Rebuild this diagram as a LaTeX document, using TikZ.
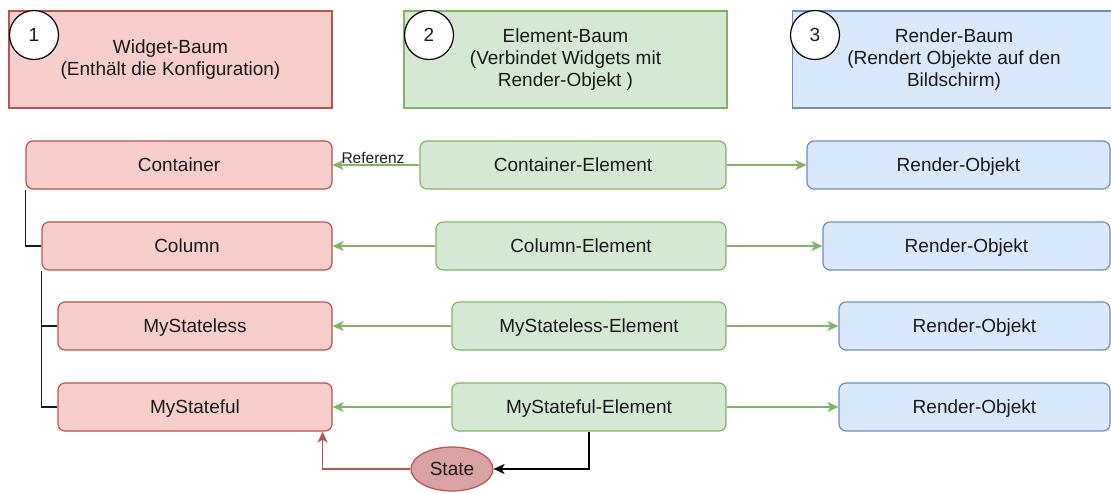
\documentclass[tikz,border=0pt]{standalone}
\usepackage{fontspec}
\setmainfont{Liberation Sans}
\usetikzlibrary{arrows.meta,calc,backgrounds,shapes.geometric}

\definecolor{redfill}{HTML}{F8CECC}
\definecolor{redline}{HTML}{B85450}
\definecolor{greenfill}{HTML}{D5E8D4}
\definecolor{greenline}{HTML}{82B366}
\definecolor{bluefill}{HTML}{DAE8FC}
\definecolor{blueline}{HTML}{6C8EBF}
\definecolor{statefill}{HTML}{D9A3A3}
\definecolor{ink}{HTML}{1A1A1A}

\tikzset{
  txt/.style={font=\fontsize{19}{22}\selectfont, text=ink},
  header/.style={txt, draw, line width=1.1pt, minimum width=323pt, minimum height=97pt,
    align=center, inner sep=0pt},
  numcircle/.style={txt, circle, draw=black, fill=white, line width=1.2pt,
    minimum size=49pt, inner sep=0pt, text height=13.6pt, text depth=0pt},
  rowbox/.style={txt, draw, line width=1.2pt, rounded corners=7pt, minimum height=48pt,
    inner sep=0pt, text height=13.6pt, text depth=0pt},
  widget/.style={rowbox, fill=redfill, draw=redline},
  element/.style={rowbox, fill=greenfill, draw=greenline},
  render/.style={rowbox, fill=bluefill, draw=blueline},
  tip/.style={-{Stealth[length=11pt,width=10pt,inset=3pt]}},
  garrow/.style={tip, draw=greenline, line width=1.3pt},
  barrow/.style={tip, draw=black, line width=1.3pt},
  rarrow/.style={tip, draw=redline, line width=1.3pt},
  tree/.style={draw=black!90, line width=1.6pt},
}

\begin{document}
\begin{tikzpicture}[x=1pt, y=-1pt]
  \useasboundingbox (0,0) rectangle (1111,493);

  % column headers
  \node[header, fill=redfill, draw=redline] (h1) at (170.5,59.5)
    {Widget-Baum\\(Enthält die Konfiguration)};
  \node[header, fill=greenfill, draw=greenline] (h2) at (565.5,59.5)
    {Element-Baum\\(Verbindet Widgets mit\\Render-Objekt )};
  \begin{scope}
    \clip (780,0) rectangle (1111,120);
    \node[header, fill=bluefill, draw=blueline] (h3) at (954,59.5)
      {Render-Baum\\(Rendert Objekte auf den\\Bildschirm)};
  \end{scope}
  \node[numcircle] (n1) at (34,35) {1};
  \node[numcircle] (n2) at (429,35) {2};
  \node[numcircle] (n3) at (815,35) {3};

  % widget tree
  \node[widget, minimum width=306pt] (container) at (179,165) {Container};
  \node[widget, minimum width=290pt] (column) at (187,246) {Column};
  \node[widget, minimum width=274pt] (stateless) at (195,326) {MyStateless};
  \node[widget, minimum width=274pt] (stateful) at (195,407) {MyStateful};

  % element tree
  \node[element, minimum width=306pt] (econtainer) at (573,165) {Container-Element};
  \node[element, minimum width=290pt] (ecolumn) at (581,246) {Column-Element};
  \node[element, minimum width=274pt] (estateless) at (589,326) {MyStateless-Element};
  \node[element, minimum width=274pt] (estateful) at (589,407) {MyStateful-Element};

  % render tree
  \node[render, minimum width=303pt] (rcontainer) at (958.5,165) {Render-Objekt};
  \node[render, minimum width=287pt] (rcolumn) at (966.5,246) {Render-Objekt};
  \node[render, minimum width=271pt] (rstateless) at (974.5,326) {Render-Objekt};
  \node[render, minimum width=271pt] (rstateful) at (974.5,407) {Render-Objekt};

  % state
  \node[txt, ellipse, draw=redline, fill=statefill, line width=1.2pt,
    minimum width=82pt, minimum height=44pt, inner sep=0pt,
    text height=13.6pt, text depth=0pt] (state) at (452,469) {State};

  % tree connectors behind the boxes
  \begin{scope}[on background layer]
    \draw[tree] (container.south west) |- (column.west);
    \draw[tree] (column.south west) |- (stateless.west);
    \draw[tree] (column.south west) |- (stateful.west);
  \end{scope}

  % element -> widget references
  \draw[garrow] (econtainer) -- (container);
  \node[font=\fontsize{15.5}{18}\selectfont, text=ink, inner sep=0pt] (reflabel) at (373,157.5) {Referenz};
  \draw[garrow] (ecolumn) -- (column);
  \draw[garrow] (estateless) -- (stateless);
  \draw[garrow] (estateful) -- (stateful);

  % element -> render objects
  \draw[garrow] (econtainer) -- (rcontainer);
  \draw[garrow] (ecolumn) -- (rcolumn);
  \draw[garrow] (estateless) -- (rstateless);
  \draw[garrow] (estateful) -- (rstateful);

  % state handling
  \draw[barrow] (estateful.south) |- (state.east);
  \coordinate (sfin) at ($(stateful.south east)+(-10,0)$);
  \draw[rarrow] (state.west) -| (sfin);
\end{tikzpicture}
\end{document}
